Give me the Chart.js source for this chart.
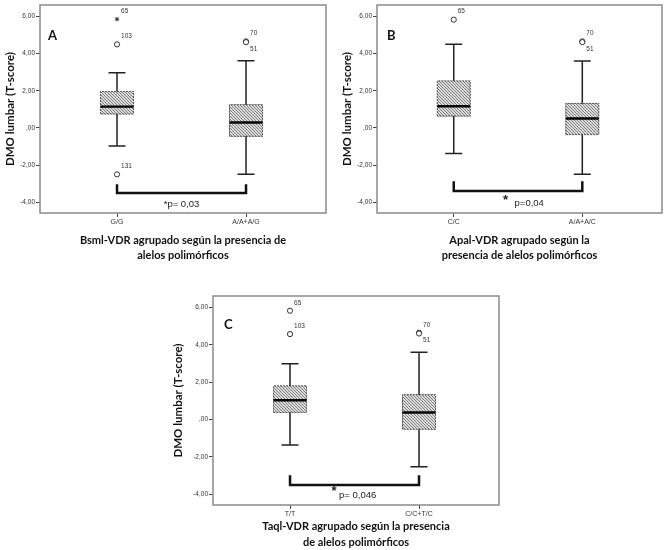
<!DOCTYPE html>
<html><head><meta charset="utf-8">
<script src="https://cdn.jsdelivr.net/npm/chart.js@4.4.0/dist/chart.umd.min.js"></script>
<style>
html,body{margin:0;padding:0;background:#fff;width:667px;height:550px;overflow:hidden}
canvas{position:absolute;display:block}
</style></head><body>
<canvas id="cA" width="333" height="270" style="left:0;top:0;width:333px;height:270px"></canvas>
<canvas id="cB" width="330" height="270" style="left:337px;top:0;width:330px;height:270px"></canvas>
<canvas id="cC" width="338" height="259" style="left:168px;top:291px;width:338px;height:259px"></canvas>
<script>
// ---------- shared axis data ----------
const yTickValues = [-4, -2, 0, 2, 4, 6];
const yTickLabels = ['-4,00', '-2,00', ',00', '2,00', '4,00', '6,00'];
const yTitle = 'DMO lumbar (T-score)';

// ---------- Panel A ----------
const categoriesA = ['G/G', 'A/A+A/G'];
const lowA    = [-0.97, -2.50];
const q1A     = [0.75, -0.45];
const medianA = [1.15, 0.29];
const q3A     = [1.96, 1.25];
const highA   = [2.97, 3.62];
const outCatA   = [1, 1, 1, 2, 2];
const outValA   = [5.86, 4.50, -2.50, 4.66, 4.62];
const outLabelA = ['65', '103', '131', '70', '51'];
const outShapeA = ['star', 'circle', 'circle', 'circle', 'circle'];
const outSideA  = ['up', 'up', 'up', 'up', 'down'];
const bracketA  = [-3.03, -3.50];
const pTextA    = '*p= 0,03';
const xTitleA   = ['Bsml-VDR agrupado según la presencia de', 'alelos polimórficos'];

// ---------- Panel B ----------
const categoriesB = ['C/C', 'A/A+A/C'];
const lowB    = [-1.38, -2.50];
const q1B     = [0.64, -0.36];
const medianB = [1.17, 0.51];
const q3B     = [2.53, 1.32];
const highB   = [4.51, 3.60];
const outCatB   = [1, 2, 2];
const outValB   = [5.83, 4.66, 4.62];
const outLabelB = ['65', '70', '51'];
const outShapeB = ['circle', 'circle', 'circle'];
const outSideB  = ['up', 'up', 'down'];
const bracketB  = [-2.87, -3.40];
const pTextB    = 'p=0,04';
const xTitleB   = ['Apal-VDR agrupado según la', 'presencia de alelos polimórficos'];

// ---------- Panel C ----------
const categoriesC = ['T/T', 'C/C+T/C'];
const lowC    = [-1.36, -2.53];
const q1C     = [0.38, -0.52];
const medianC = [1.03, 0.38];
const q3C     = [1.80, 1.33];
const highC   = [2.99, 3.61];
const outCatC   = [1, 1, 2, 2];
const outValC   = [5.83, 4.58, 4.65, 4.61];
const outLabelC = ['65', '103', '70', '51'];
const outShapeC = ['circle', 'circle', 'circle', 'circle'];
const outSideC  = ['up', 'up', 'up', 'down'];
const bracketC  = [-2.98, -3.51];
const pTextC    = 'p= 0,046';
const xTitleC   = ['Taql-VDR agrupado según la presencia', 'de alelos polimórficos'];

function hatch() {
  const c = document.createElement('canvas');
  c.width = 3; c.height = 3;
  const g = c.getContext('2d');
  g.fillStyle = '#dedede';
  g.fillRect(0, 0, 3, 3);
  g.strokeStyle = '#6e6e6e';
  g.lineWidth = 0.9;
  g.beginPath();
  g.moveTo(-1, -1); g.lineTo(4, 4);
  g.moveTo(2, -1); g.lineTo(4, 1);
  g.moveTo(-1, 2); g.lineTo(1, 4);
  g.stroke();
  return g.createPattern(c, 'repeat');
}

function boxChart(id, p) {
  const ctx = document.getElementById(id).getContext('2d');
  const half = 0.128, cap = 0.066;
  const cats = [1, 2];
  const gap = x => ({x: x, y: null});
  const whisk = [], med = [], outline = [];
  cats.forEach((x, i) => {
    whisk.push({x: x, y: p.q3[i]}, {x: x, y: p.high[i]}, gap(x),
      {x: x - cap, y: p.high[i]}, {x: x + cap, y: p.high[i]}, gap(x),
      {x: x, y: p.q1[i]}, {x: x, y: p.low[i]}, gap(x),
      {x: x - cap, y: p.low[i]}, {x: x + cap, y: p.low[i]}, gap(x));
    med.push({x: x - half, y: p.med[i]}, {x: x + half, y: p.med[i]}, gap(x));
    outline.push({x: x - half, y: p.q1[i]}, {x: x - half, y: p.q3[i]}, {x: x + half, y: p.q3[i]},
      {x: x + half, y: p.q1[i]}, {x: x - half, y: p.q1[i]}, gap(x));
  });
  const outliers = p.outCat.map((c, i) => ({x: c, y: p.outVal[i]}));
  const bracket = [{x: 1, y: p.bracket[0]}, {x: 1, y: p.bracket[1]}, {x: 2, y: p.bracket[1]}, {x: 2, y: p.bracket[0]}];

  const annot = {
    id: 'annot',
    afterDraw(chart) {
      const g = chart.ctx, xs = chart.scales.x, ys = chart.scales.y, a = chart.chartArea;
      g.save();
      g.strokeStyle = '#8a8a8a'; g.lineWidth = 1.5;
      g.strokeRect(a.left, a.top, a.right - a.left, a.bottom - a.top);
      g.fillStyle = '#333';
      g.font = '6.5px "Liberation Sans"';
      g.textBaseline = 'middle'; g.textAlign = 'left';
      p.outLabel.forEach((t, i) => {
        const px = xs.getPixelForValue(p.outCat[i]), py = ys.getPixelForValue(p.outVal[i]);
        g.fillText(t, px + 4, py + (p.outSide[i] === 'up' ? -8 : 7));
      });
      g.fillStyle = '#222';
      if (p.star) {
        g.font = 'bold 13px "Liberation Sans"'; g.textAlign = 'center';
        g.fillText('*', xs.getPixelForValue(p.starAt[0]), ys.getPixelForValue(p.starAt[1]) + 3);
      }
      g.font = '9.5px "Liberation Sans"';
      g.textAlign = p.pAlign;
      g.fillText(p.pText, xs.getPixelForValue(p.pAt[0]), ys.getPixelForValue(p.pAt[1]));
      g.fillStyle = '#111';
      g.font = 'bold 13px Lato';
      g.textAlign = 'left'; g.textBaseline = 'alphabetic';
      g.fillText(p.letter, a.left + p.letterAt[0], a.top + p.letterAt[1]);
      g.restore();
    }
  };

  return new Chart(ctx, {
    type: 'bar',
    data: {
      datasets: [
        {type: 'bar', data: cats.map((x, i) => ({x: x, y: [p.q1[i], p.q3[i]]})),
          backgroundColor: hatch(), borderWidth: 0, barThickness: 33, order: 5},
        {type: 'line', data: outline, borderColor: '#555', borderWidth: 1, borderDash: [2, 1],
          pointRadius: 0, spanGaps: false, fill: false, tension: 0, order: 4},
        {type: 'line', data: whisk, borderColor: '#222', borderWidth: 1.5,
          pointRadius: 0, spanGaps: false, fill: false, tension: 0, order: 3},
        {type: 'line', data: med, borderColor: '#000', borderWidth: 2.4,
          pointRadius: 0, spanGaps: false, fill: false, tension: 0, order: 2},
        {type: 'line', data: outliers, showLine: false,
          pointStyle: p.outShape, pointRadius: p.outShape.map(s => s === 'star' ? 2.2 : 2.6),
          pointBorderColor: '#333', pointBackgroundColor: '#fff', pointBorderWidth: 1, order: 1},
        {type: 'line', data: bracket, borderColor: '#111', borderWidth: 2.5,
          pointRadius: 0, fill: false, tension: 0, order: 0}
      ]
    },
    options: {
      responsive: false, animation: false,
      layout: {padding: {top: 1, right: p.padRight, left: 0, bottom: 0}},
      plugins: {legend: {display: false}, tooltip: {enabled: false}},
      scales: {
        x: {
          type: 'linear', min: 0.403, max: 2.62, offset: false,
          afterBuildTicks: s => { s.ticks = [{value: 1}, {value: 2}]; },
          afterFit: s => { s.height = p.xAxisH; s.paddingLeft = 0; s.paddingRight = 0; },
          ticks: {callback: v => p.cats[v - 1] || '', font: {family: 'Liberation Sans', size: 7},
            color: '#333', padding: 1, maxRotation: 0, autoSkip: false},
          grid: {drawOnChartArea: false, tickLength: 4, color: '#444', offset: false},
          border: {display: false},
          title: {display: true, text: p.xTitle, color: '#111',
            font: {family: 'Lato', size: 11, weight: 'bold', lineHeight: p.xTitleLH},
            padding: {top: 0, bottom: p.xTitlePad}}
        },
        y: {
          type: 'linear', min: -4.58, max: 6.62,
          afterBuildTicks: s => { s.ticks = yTickValues.map(v => ({value: v})); },
          afterFit: s => { s.width = p.yAxisW; s.paddingTop = 0; s.paddingBottom = 0; },
          ticks: {callback: v => yTickLabels[yTickValues.indexOf(v)], font: {family: 'Liberation Sans', size: 6.5},
            color: '#333', padding: 1},
          grid: {drawOnChartArea: false, tickLength: 4, color: '#444'},
          border: {display: false},
          title: {display: true, text: yTitle, color: '#111',
            font: {family: 'Lato', size: 11.5, weight: 'bold', lineHeight: '13px'},
            padding: {top: 3.5, bottom: 0}}
        }
      }
    },
    plugins: [annot]
  });
}

boxChart('cA', {cats: categoriesA, low: lowA, q1: q1A, med: medianA, q3: q3A, high: highA,
  outCat: outCatA, outVal: outValA, outLabel: outLabelA, outShape: outShapeA, outSide: outSideA,
  bracket: bracketA, pText: pTextA, pAt: [1.5, -4.13], pAlign: 'center', star: false,
  xTitle: xTitleA, letter: 'A', letterAt: [8, 35],
  padRight: 7, xAxisH: 57, yAxisW: 40, xTitlePad: 7.5, xTitleLH: '15px'});

boxChart('cB', {cats: categoriesB, low: lowB, q1: q1B, med: medianB, q3: q3B, high: highB,
  outCat: outCatB, outVal: outValB, outLabel: outLabelB, outShape: outShapeB, outSide: outSideB,
  bracket: bracketB, pText: pTextB, pAt: [1.473, -4.07], pAlign: 'left', star: true, starAt: [1.403, -3.76],
  xTitle: xTitleB, letter: 'B', letterAt: [10, 35],
  padRight: 4, xAxisH: 57, yAxisW: 40, xTitlePad: 7.5, xTitleLH: '15px'});

boxChart('cC', {cats: categoriesC, low: lowC, q1: q1C, med: medianC, q3: q3C, high: highC,
  outCat: outCatC, outVal: outValC, outLabel: outLabelC, outShape: outShapeC, outSide: outSideC,
  bracket: bracketC, pText: pTextC, pAt: [1.38, -4.04], pAlign: 'left', star: true, starAt: [1.341, -3.67],
  xTitle: xTitleC, letter: 'C', letterAt: [11, 33],
  padRight: 7, xAxisH: 45, yAxisW: 45, xTitlePad: 0, xTitleLH: '16px'});
</script>
</body></html>
